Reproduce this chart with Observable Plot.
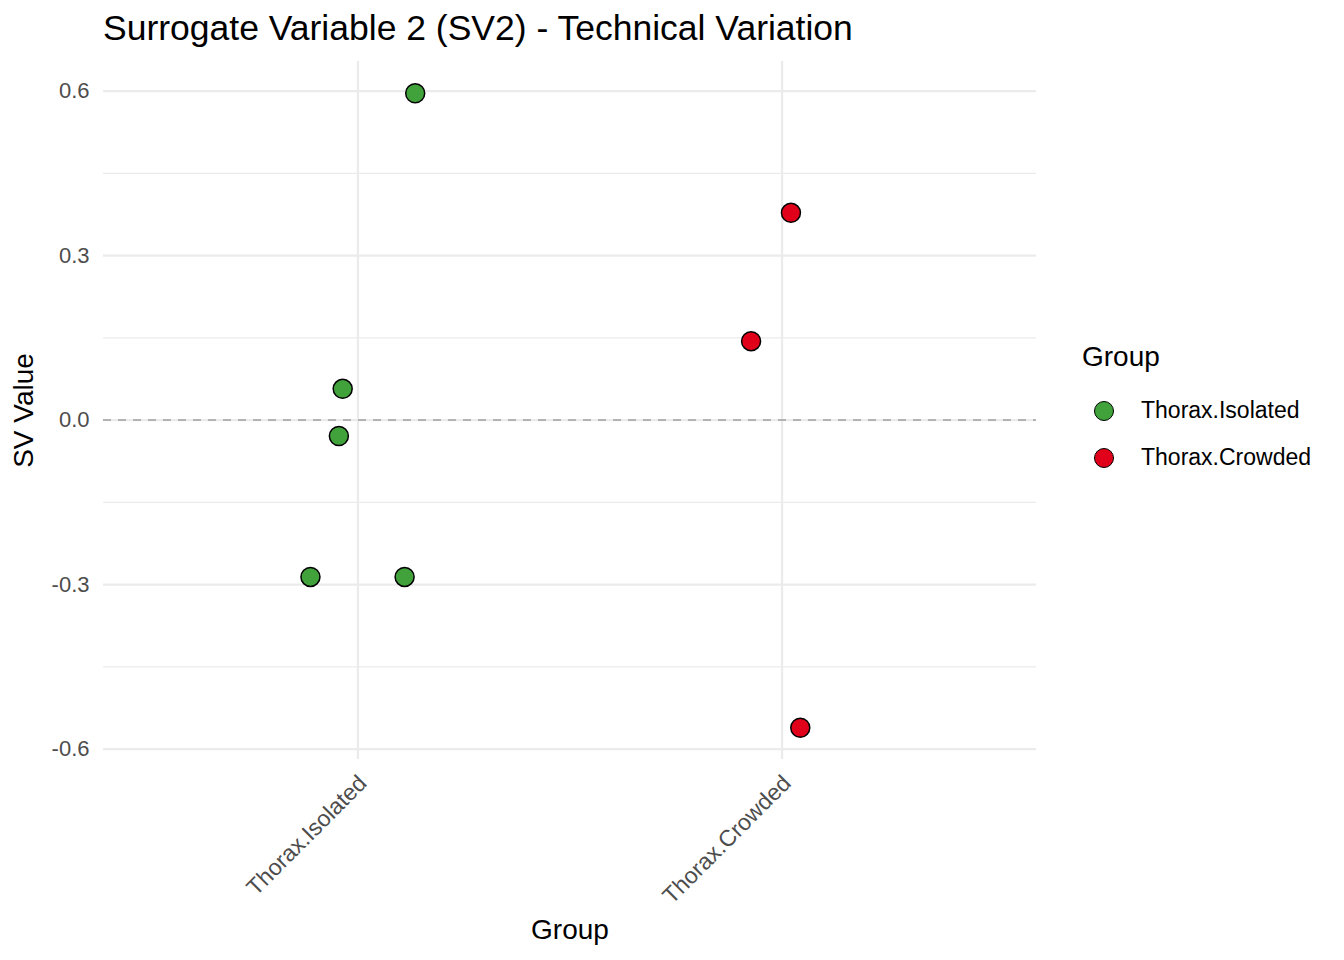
<!DOCTYPE html>
<html>
<head>
<meta charset="utf-8">
<script src="https://cdn.jsdelivr.net/npm/d3@7"></script>
<script src="https://cdn.jsdelivr.net/npm/@observablehq/plot@0.6"></script>
<style>
  html, body { margin: 0; padding: 0; background: #fff; }
  body { width: 1344px; height: 960px; position: relative; overflow: hidden; font-family: "Liberation Sans", Arial, sans-serif; }
  #chart { position: absolute; left: 0; top: 0; }
  .title { position: absolute; left: 103px; top: 9px; font-size: 35.5px; line-height: 1.117; color: #000; white-space: nowrap; }
  .legend { position: absolute; left: 1082px; top: 341px; }
  .legend .lt { font-size: 28px; line-height: 32px; color: #000; height: 46px; }
  .legend .item { display: flex; align-items: center; height: 47px; font-size: 23px; color: #000; }
  .legend .sw { width: 20px; height: 20px; border-radius: 50%; border: 1.6px solid #000; box-sizing: border-box; margin-left: 12px; margin-right: 27px; }
</style>
</head>
<body>
<div class="title">Surrogate Variable 2 (SV2) - Technical Variation</div>
<div id="chart"></div>
<div class="legend" id="legend"></div>
<script>
const groups = ["Thorax.Isolated", "Thorax.Crowded"];
const colors = ["#41A23C", "#E0001A"];
const sampleGroup = ["Thorax.Isolated","Thorax.Isolated","Thorax.Isolated","Thorax.Isolated","Thorax.Isolated","Thorax.Crowded","Thorax.Crowded","Thorax.Crowded"];
const jitter = [0.135, -0.036, -0.045, -0.112, 0.110, 0.021, -0.073, 0.043];
const svValue = [0.596, 0.057, -0.029, -0.286, -0.286, 0.378, 0.144, -0.561];
const yTicks = [-0.6, -0.3, 0, 0.3, 0.6];
const yMinor = [-0.45, -0.15, 0.15, 0.45];

const data = sampleGroup.map((g, i) => ({
  group: g,
  pos: groups.indexOf(g) + 1 + jitter[i],
  value: svValue[i]
}));

const plot = Plot.plot({
  width: 1344,
  height: 960,
  marginLeft: 103,
  marginRight: 308,
  marginTop: 61,
  marginBottom: 201,
  style: { fontFamily: "Liberation Sans, Arial, sans-serif", background: "transparent" },
  x: { domain: [0.4, 2.6] },
  y: { domain: [-0.619, 0.654] },
  color: { domain: groups, range: colors },
  marks: [
    Plot.ruleY(yMinor, { stroke: "#ebebeb", strokeWidth: 1.1 }),
    Plot.ruleY(yTicks, { stroke: "#ebebeb", strokeWidth: 2.2 }),
    Plot.ruleX([1, 2], { stroke: "#ebebeb", strokeWidth: 2.2 }),
    Plot.ruleY([0], { stroke: "#b3b3b3", strokeWidth: 2, strokeDasharray: "8,7" }),
    Plot.axisY({ ticks: yTicks, tickSize: 0, tickPadding: 14, tickFormat: d => d.toFixed(1), fontSize: 22, color: "#4d4d4d", label: null }),
    Plot.axisX({ ticks: [1, 2], tickSize: 0, tickPadding: 20, dx: 5, tickRotate: -45, tickFormat: d => groups[d - 1], fontSize: 23, color: "#4d4d4d", label: null }),
    Plot.dot(data, { x: "pos", y: "value", fill: "group", stroke: "#000", strokeWidth: 1.5, r: 9.5 }),
    Plot.text(["SV Value"], { frameAnchor: "left", textAnchor: "middle", dx: -79, rotate: -90, fontSize: 28, fill: "#000" }),
    Plot.text(["Group"], { frameAnchor: "bottom", textAnchor: "middle", dy: 179, fontSize: 28, fill: "#000" })
  ]
});
document.getElementById("chart").appendChild(plot);

const leg = document.getElementById("legend");
const lt = document.createElement("div"); lt.className = "lt"; lt.textContent = "Group"; leg.appendChild(lt);
groups.forEach((g, i) => {
  const it = document.createElement("div"); it.className = "item";
  const sw = document.createElement("span"); sw.className = "sw"; sw.style.background = colors[i];
  const tx = document.createElement("span"); tx.textContent = g;
  it.appendChild(sw); it.appendChild(tx); leg.appendChild(it);
});
</script>
</body>
</html>
